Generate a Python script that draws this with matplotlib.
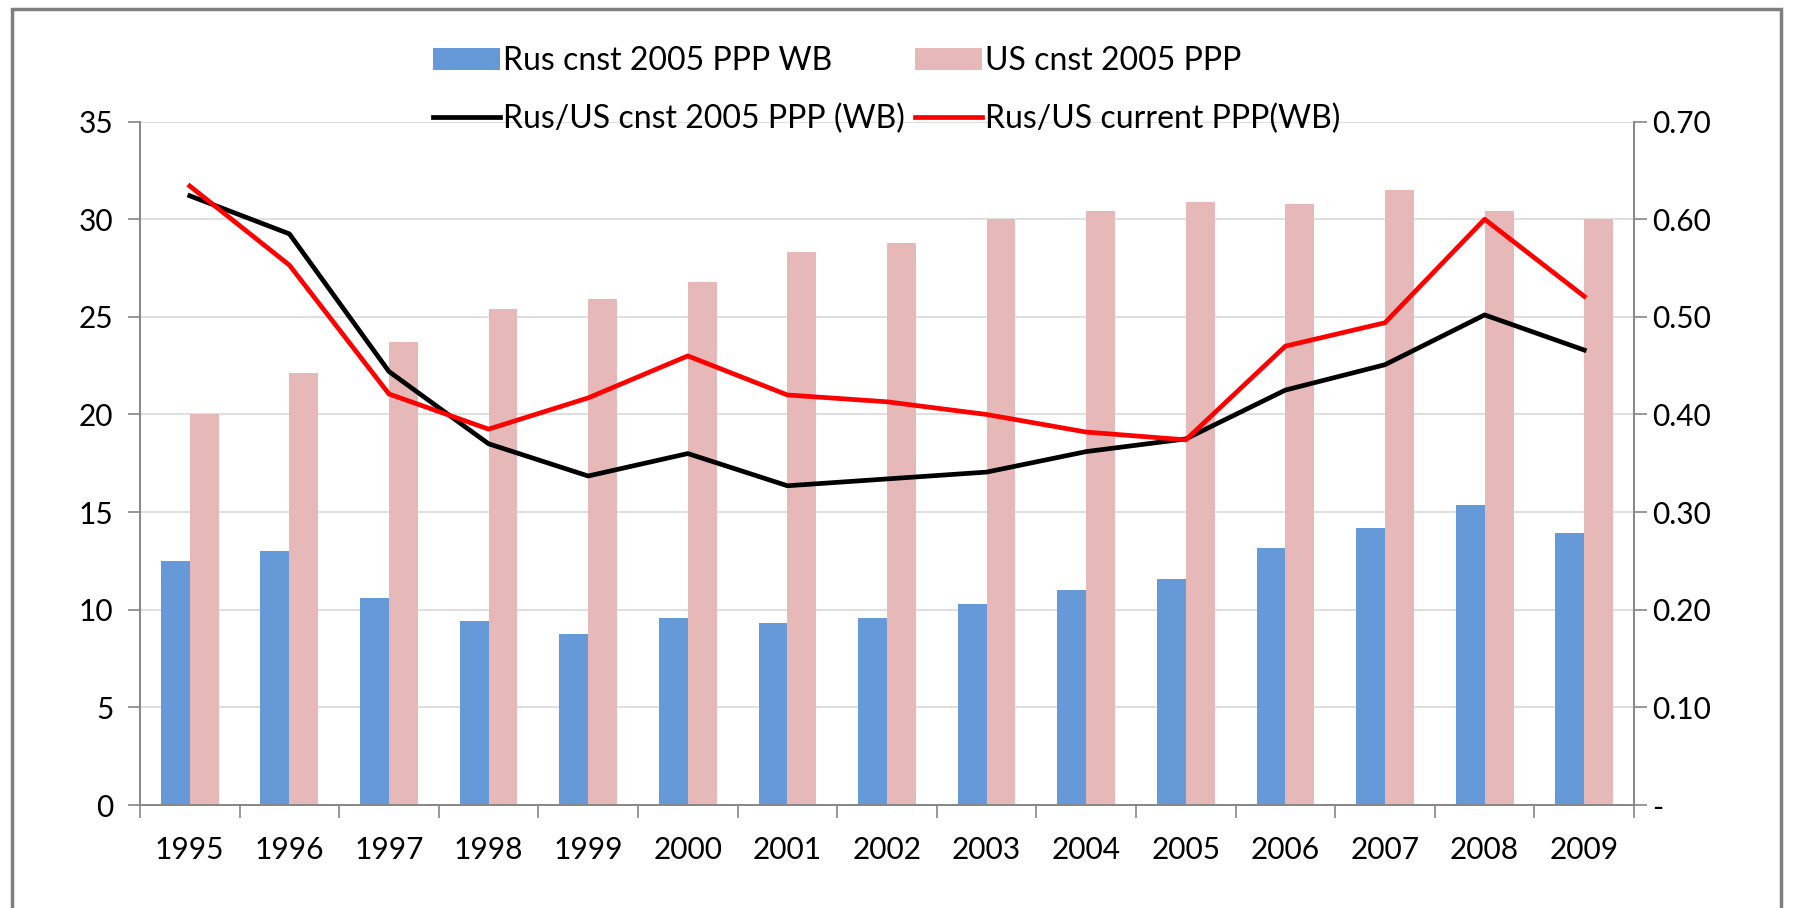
import numpy as np
import matplotlib
matplotlib.use("Agg")
import matplotlib.pyplot as plt
from matplotlib.patches import Rectangle
from matplotlib.ticker import FuncFormatter

# data
years = ['1995', '1996', '1997', '1998', '1999', '2000', '2001', '2002',
         '2003', '2004', '2005', '2006', '2007', '2008', '2009']
rus_cnst = [12.5, 13.0, 10.6, 9.4, 8.75, 9.6, 9.3, 9.6, 10.3, 11.0, 11.6, 13.15, 14.2, 15.35, 13.95]
us_cnst = [20.0, 22.1, 23.7, 25.4, 25.9, 26.8, 28.3, 28.8, 30.0, 30.4, 30.9, 30.8, 31.5, 30.4, 30.0]
ratio_cnst = [0.624, 0.585, 0.444, 0.370, 0.337, 0.360, 0.327, 0.334, 0.341, 0.362, 0.375, 0.425, 0.451, 0.502, 0.466]
ratio_curr = [0.634, 0.553, 0.421, 0.385, 0.417, 0.460, 0.420, 0.413, 0.400, 0.382, 0.374, 0.470, 0.494, 0.600, 0.521]

plt.rcParams['font.family'] = ['Lato', 'DejaVu Sans']

fig = plt.figure(figsize=(17.99, 9.08), dpi=100)
ax = fig.add_axes([0.0778, 0.1134, 0.8305, 0.7527])
ax2 = ax.twinx()

x = np.arange(len(years))
w = 0.29
grid_col = '#d9d9d9'
spine_col = '#868686'

ax.bar(x - w / 2, rus_cnst, w, color='#6699d8', label='Rus cnst 2005 PPP WB', zorder=2)
ax.bar(x + w / 2, us_cnst, w, color='#e6b9b8', label='US cnst 2005 PPP', zorder=2)
ax.set_ylim(0, 35)
ax.set_yticks(np.arange(0, 36, 5))
ax.set_xlim(-0.5, len(years) - 0.5)
ax.yaxis.grid(True, color=grid_col, lw=1.2, zorder=0)
ax.set_axisbelow(True)

# category labels at centres, tick marks at boundaries
ax.set_xticks(x)
ax.set_xticklabels(years)
ax.set_xticks(np.arange(-0.5, len(years)), minor=True)
ax.tick_params(axis='x', which='major', length=0, pad=22, labelsize=21.5)
ax.tick_params(axis='x', which='minor', length=9, color=spine_col, width=1.2)
ax.tick_params(axis='y', length=9, color=spine_col, width=1.2, pad=10, labelsize=21.5)

l1, = ax2.plot(x, ratio_cnst, color='black', lw=3.4, label='Rus/US cnst 2005 PPP (WB)', zorder=3)
l2, = ax2.plot(x, ratio_curr, color='#ff0000', lw=3.4, label='Rus/US current PPP(WB)', zorder=3)
ax2.set_ylim(0, 0.70)
ax2.set_yticks(np.arange(0, 0.71, 0.1))
ax2.yaxis.set_major_formatter(FuncFormatter(lambda v, p: '-' if abs(v) < 1e-9 else f'{v:.2f}'))
ax2.tick_params(axis='y', length=9, color=spine_col, width=1.2, pad=4, labelsize=21.5)

for a in (ax, ax2):
    a.spines['top'].set_visible(False)
    for s in ('left', 'right', 'bottom'):
        a.spines[s].set_color(spine_col)
        a.spines[s].set_linewidth(1.2)

h1, lab1 = ax.get_legend_handles_labels()
handles = [h1[0], l1, h1[1], l2]
labels = [lab1[0], l1.get_label(), lab1[1], l2.get_label()]
fig.legend(handles, labels, ncol=2, loc='center', bbox_to_anchor=(0.493, 0.901),
           frameon=False, fontsize=23, handlelength=2.1, handletextpad=0.1,
           columnspacing=0.3, labelspacing=0.85, borderpad=0)

# outer frame
fig.patches.append(Rectangle((0.0067, -0.05), 0.9833, 1.04, transform=fig.transFigure,
                             fill=False, edgecolor='#7f7f7f', lw=2.5))

fig.savefig('out.png', dpi=100)
